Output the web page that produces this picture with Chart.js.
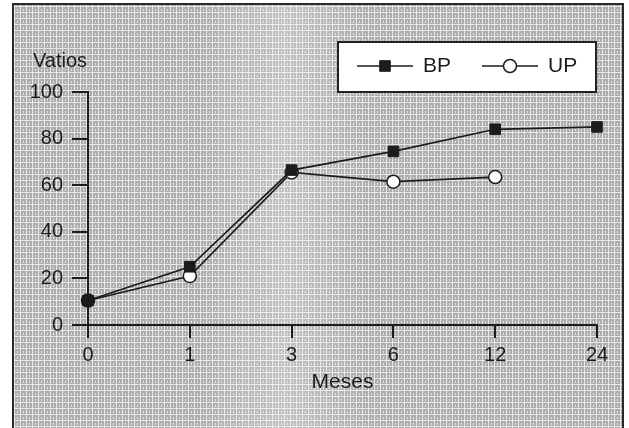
<!DOCTYPE html>
<html>
<head>
<meta charset="utf-8">
<script src="https://cdn.jsdelivr.net/npm/chart.js@4.4.1/dist/chart.umd.min.js"></script>
<style>
  html, body { margin: 0; padding: 0; background: #fff; }
  #wrap { width: 629px; height: 428px; }
</style>
</head>
<body>
<div id="wrap"><canvas id="c" width="629" height="428"></canvas></div>
<script>
const months = ['0', '1', '3', '6', '12', '24'];
const bpValues = [10.5, 25, 66.5, 74.5, 84, 85];
const upValues = [10.5, 21, 65.5, 61.5, 63.5];
const yTicks = [0, 20, 40, 60, 80, 100];

const INK = '#1c1c1c';
const FONT = '"Liberation Sans", Arial, sans-serif';

// grey halftone-ish fill like the scanned original
function makePattern(ctx) {
  const p = document.createElement('canvas');
  p.width = 6; p.height = 6;
  const g = p.getContext('2d');
  g.fillStyle = '#adadad';
  g.fillRect(0, 0, 6, 6);
  g.fillStyle = '#e8e8e8';
  g.fillRect(0, 0, 6, 1);
  g.fillRect(2, 0, 1, 6);
  g.fillRect(5, 3, 1, 2);
  return ctx.createPattern(p, 'repeat');
}

const backdrop = {
  id: 'backdrop',
  beforeDraw(chart) {
    const ctx = chart.ctx;
    ctx.save();
    ctx.fillStyle = '#fff';
    ctx.fillRect(0, 0, chart.width, chart.height);
    ctx.fillStyle = makePattern(ctx);
    ctx.fillRect(13, 4, 610, 430);
    // lighter band through the middle of the scan
    const grad = ctx.createLinearGradient(200, 0, 370, 0);
    grad.addColorStop(0, 'rgba(255,255,255,0)');
    grad.addColorStop(0.5, 'rgba(255,255,255,0.25)');
    grad.addColorStop(1, 'rgba(255,255,255,0)');
    ctx.fillStyle = grad;
    ctx.fillRect(200, 4, 170, 430);
    ctx.strokeStyle = '#2a2a2a';
    ctx.lineWidth = 2;
    ctx.strokeRect(13, 4, 610, 440);
    // y axis title, written horizontally above the axis
    ctx.fillStyle = INK;
    ctx.font = '20px ' + FONT;
    ctx.textBaseline = 'alphabetic';
    ctx.fillText('Vatios', 33, 67);
    ctx.restore();
  }
};

const boxLegend = {
  id: 'boxLegend',
  afterDraw(chart) {
    const ctx = chart.ctx;
    ctx.save();
    ctx.fillStyle = '#fff';
    ctx.fillRect(338, 42, 258, 50);
    ctx.strokeStyle = '#222';
    ctx.lineWidth = 2;
    ctx.strokeRect(338, 42, 258, 50);
    const y = 66;
    const slots = [357, 482];
    chart.data.datasets.forEach((ds, i) => {
      const x0 = slots[i];
      ctx.strokeStyle = ds.borderColor;
      ctx.lineWidth = ds.borderWidth;
      ctx.beginPath();
      ctx.moveTo(x0, y);
      ctx.lineTo(x0 + 56, y);
      ctx.stroke();
      ctx.strokeStyle = ds.pointBorderColor;
      ctx.lineWidth = ds.pointBorderWidth;
      ctx.fillStyle = ds.legendFill;
      Chart.helpers.drawPoint(ctx, {
        pointStyle: ds.pointStyle, radius: ds.pointRadius, rotation: 0, borderWidth: ds.pointBorderWidth
      }, x0 + 28, y);
      ctx.fillStyle = INK;
      ctx.font = '21px ' + FONT;
      ctx.textBaseline = 'middle';
      ctx.fillText(ds.label, x0 + 66, y);
    });
    ctx.restore();
  }
};

new Chart(document.getElementById('c'), {
  type: 'line',
  data: {
    labels: months,
    datasets: [
      {
        label: 'BP',
        data: bpValues,
        borderColor: INK,
        borderWidth: 1.7,
        pointStyle: 'rect',
        pointRadius: 7.5,
        pointBackgroundColor: INK,
        pointBorderColor: INK,
        pointBorderWidth: 1,
        legendFill: INK,
        tension: 0
      },
      {
        label: 'UP',
        data: upValues,
        borderColor: INK,
        borderWidth: 1.7,
        pointStyle: 'circle',
        pointRadius: 6.5,
        pointBackgroundColor: ['#111', '#fff', '#fff', '#fff', '#fff'],
        pointBorderColor: INK,
        pointBorderWidth: 1.5,
        legendFill: '#fff',
        tension: 0
      }
    ]
  },
  options: {
    responsive: false,
    animation: false,
    layout: { padding: { left: 0, top: 92, right: 32, bottom: 0 } },
    plugins: { legend: { display: false }, tooltip: { enabled: false } },
    scales: {
      x: {
        offset: false,
        afterFit(s) { s.height = 103; },
        grid: { drawOnChartArea: false, drawTicks: true, tickLength: 13, color: INK, lineWidth: 2 },
        border: { display: true, color: INK, width: 2 },
        ticks: { color: INK, padding: 5, maxRotation: 0, font: { family: FONT, size: 20 } },
        title: { display: true, text: 'Meses', color: INK, font: { family: FONT, size: 21 }, padding: { top: 0, bottom: 33 } }
      },
      y: {
        min: 0,
        max: 100,
        afterFit(s) { s.width = 88; },
        afterBuildTicks(s) { s.ticks = yTicks.map(v => ({ value: v })); },
        grid: { drawOnChartArea: false, drawTicks: true, tickLength: 16, color: INK, lineWidth: 2 },
        border: { display: true, color: INK, width: 2 },
        ticks: { color: INK, padding: 9, font: { family: FONT, size: 20 } }
      }
    }
  },
  plugins: [backdrop, boxLegend]
});
</script>
</body>
</html>
